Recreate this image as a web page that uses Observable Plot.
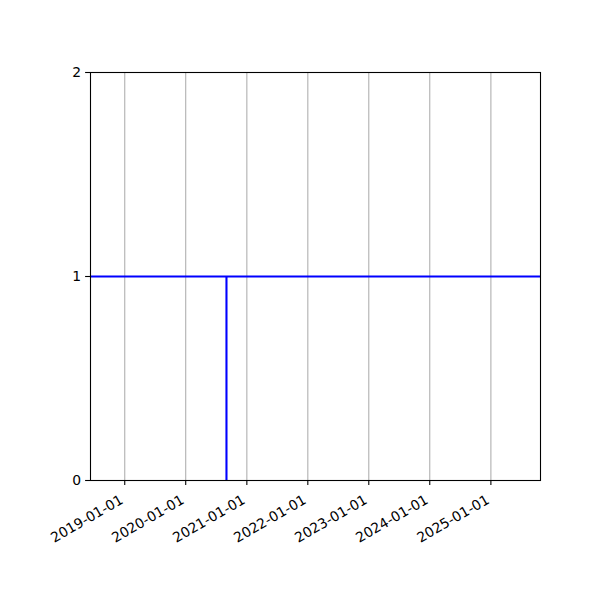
<!DOCTYPE html>
<html>
<head>
<meta charset="utf-8">
<script src="https://cdn.jsdelivr.net/npm/d3@7"></script>
<script src="https://cdn.jsdelivr.net/npm/@observablehq/plot@0.6"></script>
<style>
  html, body { margin: 0; padding: 0; background: #fff; }
</style>
</head>
<body>
<div id="chart"></div>
<script>
// Data
const xDomainDates = ["2018-06-10", "2025-10-25"];
const yDomain = [0, 2];
const yTicks = [0, 1, 2];
const xTickDates = ["2019-01-01", "2020-01-01", "2021-01-01", "2022-01-01", "2023-01-01", "2024-01-01", "2025-01-01"];
const hLineValues = [1];
const vLineDates = ["2020-09-01"];
const vLineFrom = [0];
const vLineTo = [1];

const parse = d3.utcParse("%Y-%m-%d");
const fmt = d3.utcFormat("%Y-%m-%d");
const xTicks = xTickDates.map(parse);
const vLines = vLineDates.map((d, i) => ({x: parse(d), y1: vLineFrom[i], y2: vLineTo[i]}));

const chart = Plot.plot({
  width: 600,
  height: 600,
  marginLeft: 90,
  marginRight: 60,
  marginTop: 72,
  marginBottom: 120,
  style: {fontFamily: "DejaVu Sans", fontSize: "13.9px", color: "black", background: "white"},
  x: {type: "utc", domain: xDomainDates.map(parse)},
  y: {domain: yDomain},
  marks: [
    Plot.gridX(xTicks, {stroke: "#b0b0b0", strokeOpacity: 1, strokeWidth: 1.1}),
    Plot.ruleY(hLineValues, {stroke: "blue", strokeWidth: 2.1}),
    Plot.ruleX(vLines, {x: "x", y1: "y1", y2: "y2", stroke: "blue", strokeWidth: 2.1}),
    Plot.frame({stroke: "black", strokeWidth: 1.1}),
    Plot.axisY({ticks: yTicks, tickSize: 4.9, tickPadding: 4.5, tickFormat: d => String(d), label: null, strokeWidth: 1.1}),
    Plot.axisX({ticks: xTicks, tickSize: 4.9, tickFormat: () => "", label: null, strokeWidth: 1.1}),
    Plot.text(xTicks, {x: d => d, frameAnchor: "bottom", text: d => fmt(d), rotate: -30, textAnchor: "end", lineAnchor: "top", dy: 13.5, dx: -5.5, fill: "black"})
  ]
});
document.getElementById("chart").appendChild(chart);
</script>
</body>
</html>
